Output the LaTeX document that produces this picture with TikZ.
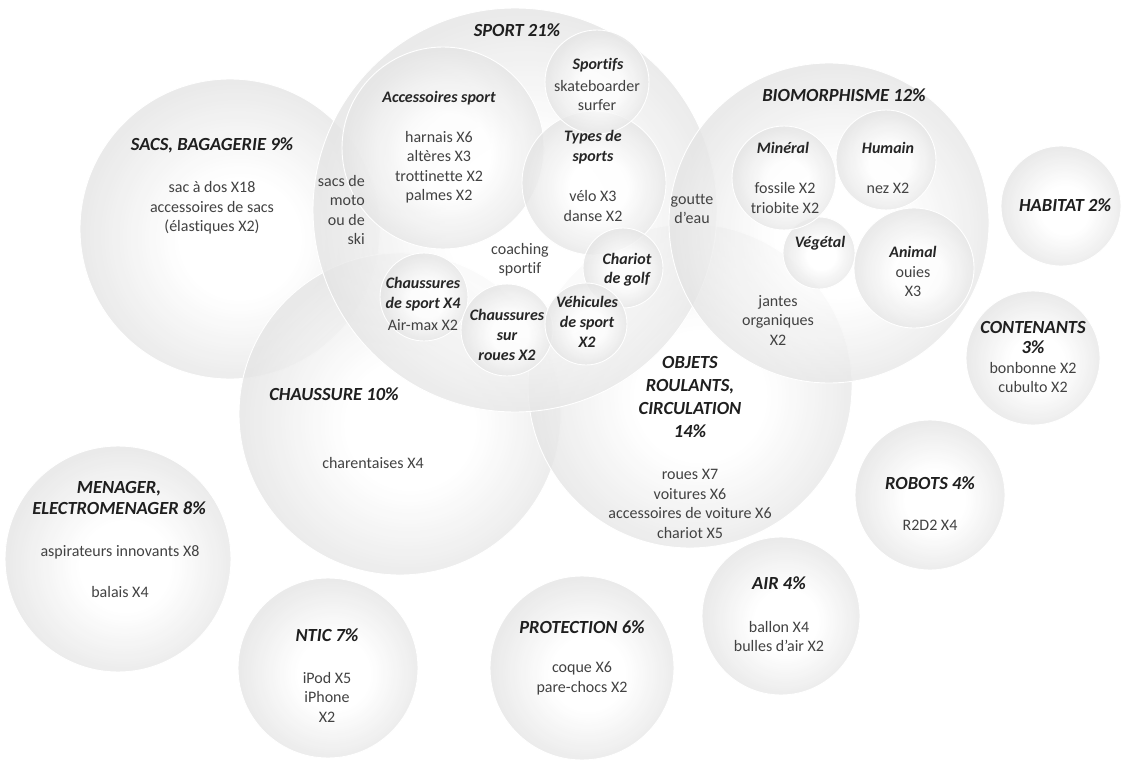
\documentclass[tikz,border=0pt]{standalone}
\usepackage{fontspec}
\setmainfont{Carlito}[Ligatures=NoCommon]
\pgfdeclareradialshading{bubble}{\pgfpoint{2bp}{-2bp}}{color(0bp)=(white); color(10bp)=(white); color(25bp)=(black!10); color(50bp)=(black!10)}
\tikzset{
  bub/.style={circle, inner sep=0pt, draw=white, line width=0.9pt, shading=bubble, fill opacity=0.8, draw opacity=1, minimum size=#1},
  ttl/.style={inner sep=0pt, align=center, text=black!88, font=\fontsize{18.5}{22.5}\selectfont\bfseries\itshape},
  sub/.style={inner sep=0pt, align=center, text=black!85, font=\fontsize{16}{20}\selectfont\bfseries\itshape},
  txt/.style={inner sep=0pt, align=center, text=black!74, font=\fontsize{16}{19.5}\selectfont},
}
\begin{document}
\begin{tikzpicture}[x=1pt,y=-1pt]
\useasboundingbox (0,0) rectangle (1125,765);
% big circles
\node[bub=300pt] (cSacs) at (230,229) {};
\node[bub=322pt] (cChaus) at (400,414) {};
\node[bub=324pt] (cObj) at (690,386) {};
\node[bub=404pt] (cSport) at (515,210) {};
\node[bub=320pt] (cBio) at (829,223) {};
% inner sport circles
\node[bub=202pt] (cAcc) at (443,148) {};
\node[bub=144pt] (cTypes) at (594,183) {};
\node[bub=104pt] (cSportifs) at (597,82) {};
\node[bub=80pt] (cChariot) at (623,268) {};
\node[bub=88pt] (cChSport) at (424,297) {};
\node[bub=92pt] (cChRoues) at (507,330) {};
\node[bub=82pt] (cVeh) at (586,324) {};
% inner biomorphisme circles
\node[bub=72pt] (cVeg) at (819,253) {};
\node[bub=104pt] (cMin) at (784,178) {};
\node[bub=100pt] (cHum) at (886,160) {};
\node[bub=120pt] (cAni) at (914,268) {};
% isolated circles
\node[bub=120pt] (cHab) at (1061,206) {};
\node[bub=134pt] (cCont) at (1033,358) {};
\node[bub=150pt] (cRob) at (930,495) {};
\node[bub=158pt] (cAir) at (781,616) {};
\node[bub=184pt] (cProt) at (582,668) {};
\node[bub=180pt] (cNtic) at (328,668) {};
\node[bub=226pt] (cMen) at (118,559) {};

% main titles
\node[ttl] (tSport) at (517,30) {SPORT 21\%};
\node[ttl] (tSacs) at (212,145) {SACS, BAGAGERIE 9\%};
\node[ttl] (tBio) at (844,95) {BIOMORPHISME 12\%};
\node[ttl] (tHab) at (1065,205) {HABITAT 2\%};
\node[ttl,font=\fontsize{18.5}{20}\selectfont\bfseries\itshape] (tCont) at (1033,338) {CONTENANTS\\3\%};
\node[ttl] (tChaus) at (334,394) {CHAUSSURE 10\%};
\node[ttl,font=\fontsize{18.5}{22.7}\selectfont\bfseries\itshape] (tObj) at (690,397) {OBJETS\\ROULANTS,\\CIRCULATION\\14\%};
\node[ttl,font=\fontsize{18.5}{21}\selectfont\bfseries\itshape] (tMen) at (119,498) {MENAGER,\\ELECTROMENAGER 8\%};
\node[ttl] (tRob) at (930,483) {ROBOTS 4\%};
\node[ttl] (tAir) at (779,583) {AIR 4\%};
\node[ttl] (tProt) at (582,627) {PROTECTION 6\%};
\node[ttl] (tNtic) at (327,635) {NTIC 7\%};

% sub titles
\node[sub] (sSportifs) at (598,65) {Sportifs};
\node[sub] (sAcc) at (439,98) {Accessoires sport};
\node[sub] (sTypes) at (593,147) {Types de\\sports};
\node[sub] (sMin) at (783,148) {Minéral};
\node[sub] (sHum) at (888,148) {Humain};
\node[sub] (sVeg) at (820,243) {Végétal};
\node[sub] (sAni) at (913,252) {Animal};
\node[sub,font=\fontsize{16}{19}\selectfont\bfseries\itshape] (sChariot) at (627,270) {Chariot\\de golf};
\node[sub] (sChSport) at (423,294) {Chaussures\\de sport X4};
\node[txt] (bChSport) at (423,325) {Air-max X2};
\node[sub] (sChRoues) at (507,335) {Chaussures\\sur\\roues X2};
\node[sub] (sVeh) at (587,322) {Véhicules\\de sport\\X2};

% body texts
\node[txt] (bSportifs) at (597,95.5) {skateboarder\\surfer};
\node[txt] (bAcc) at (439,167) {harnais X6\\altères X3\\trottinette X2\\palmes X2};
\node[txt] (bTypes) at (593,206) {vélo X3\\danse X2};
\node[txt] (bGoutte) at (692,209) {goutte\\d’eau};
\node[txt,align=right,anchor=east] (bSacsMoto) at (365,210) {sacs de\\moto\\ou de\\ski};
\node[txt] (bSacs) at (212,208) {sac à dos X18\\accessoires de sacs\\(élastiques X2)};
\node[txt] (bMin) at (785,198) {fossile X2\\triobite X2};
\node[txt] (bHum) at (888,188) {nez X2};
\node[txt] (bAni) at (913,281.5) {ouies\\X3};
\node[txt] (bJantes) at (778,320) {jantes\\organiques\\X2};
\node[txt] (bCont) at (1033,377.5) {bonbonne X2\\cubulto X2};
\node[txt] (bCoach) at (520,259.5) {coaching\\sportif};
\node[txt] (bObj) at (690,504) {roues X7\\voitures X6\\accessoires de voiture X6\\chariot X5};
\node[txt] (bChaus) at (373,463) {charentaises X4};
\node[txt] (bMen1) at (120,552) {aspirateurs innovants X8};
\node[txt] (bMen2) at (120,592) {balais X4};
\node[txt] (bNtic) at (327,697) {iPod X5\\iPhone\\X2};
\node[txt] (bProt) at (582,678.5) {coque X6\\pare-chocs X2};
\node[txt] (bAir) at (779,636.5) {ballon X4\\bulles d’air X2};
\node[txt] (bRob) at (930,525) {R2D2 X4};
\end{tikzpicture}
\end{document}
